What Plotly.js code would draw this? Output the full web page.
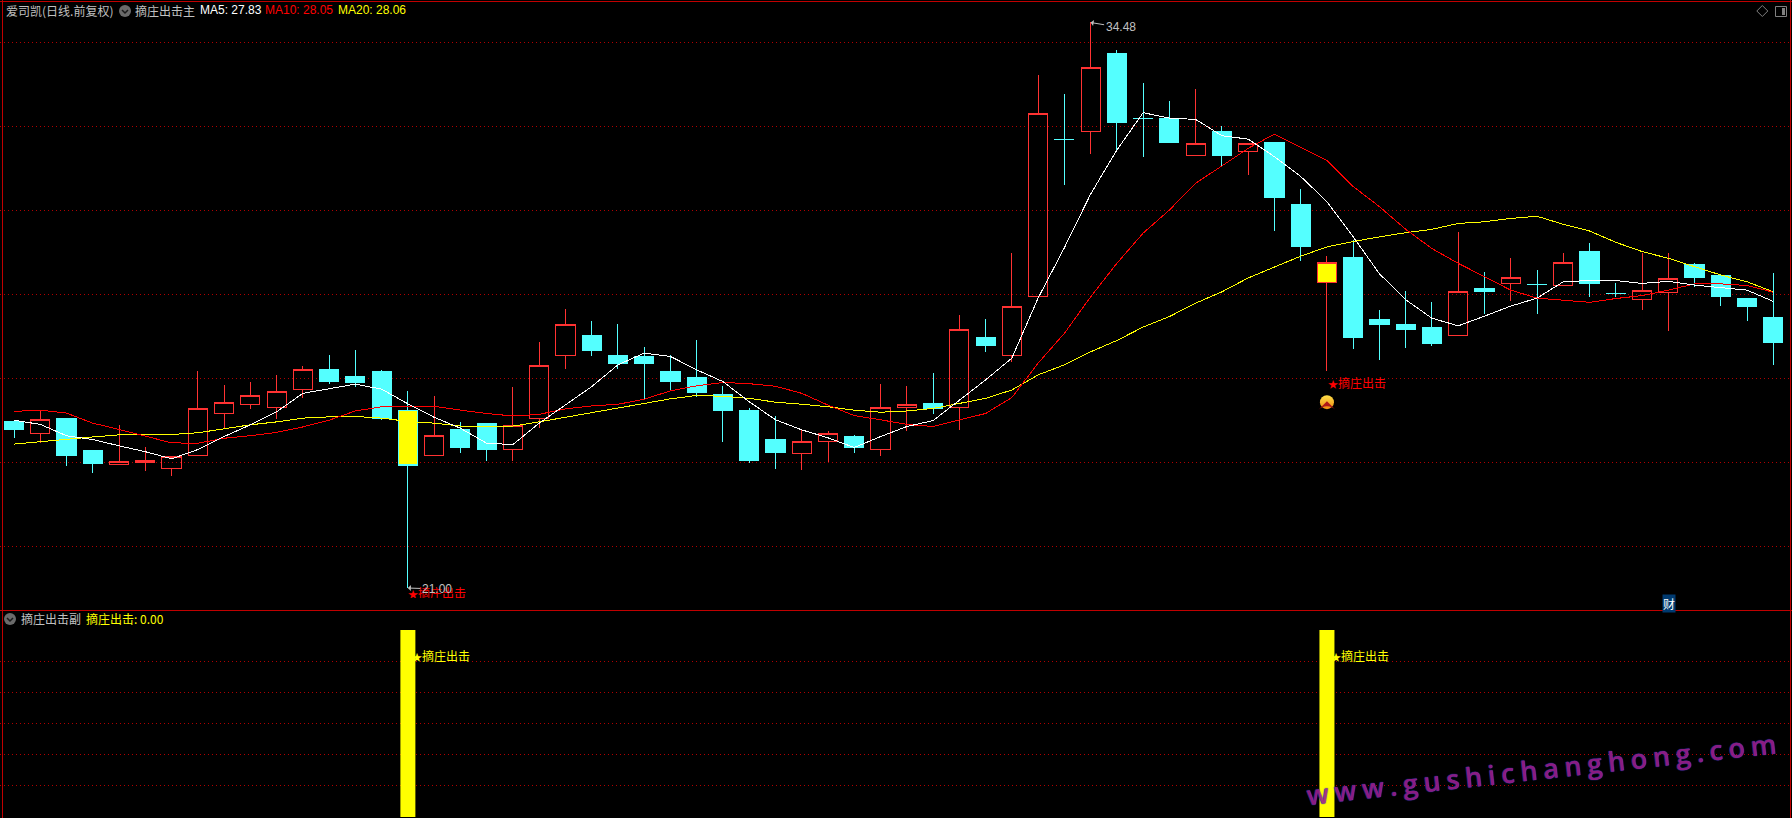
<!DOCTYPE html>
<html>
<head>
<meta charset="utf-8">
<script src="https://cdn.plot.ly/plotly-3.0.1.min.js"></script>
<style>html,body{margin:0;padding:0;background:#000;overflow:hidden}#c{width:1792px;height:818px}
#c .scatterlayer path.js-line, #c .boxlayer path.box{shape-rendering:crispEdges !important}</style>
</head>
<body>
<div id="c"></div>
<script>
const stockName = '爱司凯(日线.前复权)';
const mainIndicator = '摘庄出击主';
const subIndicator = '摘庄出击副';
const signalName = '摘庄出击';
const ma5Label = 'MA5: 27.83', ma10Label = 'MA10: 28.05', ma20Label = 'MA20: 28.06';
const subValueLabel = '摘庄出击: 0.00';
const watermark = 'www.gushichanghong.com';

const open = [24.98,24.68,25.03,24.27,23.94,23.99,23.84,24.15,25.16,25.37,25.30,25.73,26.22,26.03,26.17,25.22,24.15,24.77,24.93,24.30,25.05,26.55,27.03,26.55,26.51,26.17,26.01,25.62,25.22,24.53,24.20,24.50,24.62,24.30,25.30,25.39,25.31,26.96,26.55,27.95,31.70,31.89,33.73,32.20,32.18,31.31,31.89,31.40,31.61,30.15,28.28,28.89,27.41,27.29,27.20,27.01,28.13,28.25,28.24,28.21,29.01,28.03,27.87,28.04,28.72,28.46,27.91,27.46];
const high = [24.98,25.24,25.03,24.27,24.88,24.35,24.14,26.17,25.84,25.91,26.08,26.29,26.55,26.67,26.20,25.70,25.58,24.96,24.93,25.79,26.86,27.65,27.37,27.29,26.75,26.55,26.91,25.82,25.29,25.10,24.79,24.74,24.65,25.86,25.82,26.13,27.51,27.41,28.99,33.23,32.78,34.48,33.83,33.04,32.61,32.90,32.01,31.60,31.63,30.51,28.91,29.30,27.63,28.08,27.82,29.49,28.53,28.87,28.58,28.99,29.22,28.27,28.99,28.99,28.75,28.49,27.91,28.51];
const low = [24.58,24.46,23.91,23.74,23.94,23.79,23.67,24.15,24.81,25.27,25.03,25.54,25.86,25.80,25.01,21.00,24.15,24.22,24.03,24.03,24.82,26.22,26.54,26.22,25.51,25.72,25.55,24.48,23.98,23.84,23.81,24.01,24.22,24.15,24.74,25.15,24.77,26.63,26.39,27.95,30.61,31.35,31.39,31.28,31.61,31.31,31.06,30.85,29.51,28.80,26.17,26.70,26.44,26.72,26.77,27.01,27.53,27.84,27.53,28.21,27.94,27.94,27.63,27.13,28.18,27.72,27.37,26.32];
const close = [24.77,25.02,24.15,23.98,24.02,24.04,24.14,25.28,25.43,25.59,25.69,26.21,25.93,25.91,25.03,23.91,24.64,24.36,24.31,24.88,26.31,27.29,26.67,26.34,26.34,25.93,25.67,25.22,24.05,24.22,24.50,24.69,24.34,25.31,25.38,25.29,27.17,26.79,27.72,32.32,31.69,33.41,32.09,32.19,31.63,31.60,31.32,31.60,30.30,29.13,28.76,26.96,27.29,27.17,26.82,28.07,28.06,28.41,28.23,28.76,28.27,28.02,28.10,28.38,28.41,27.94,27.70,26.86];
const ma5 = [25.00,24.90,24.63,24.54,24.39,24.25,24.08,24.30,24.61,24.89,25.20,25.64,25.75,25.86,25.74,25.39,25.07,24.81,24.45,24.42,24.93,25.36,25.80,26.32,26.60,26.52,26.20,25.92,25.44,25.01,24.77,24.58,24.35,24.61,24.85,24.99,25.48,25.96,26.48,27.91,29.11,30.39,31.44,32.33,32.20,32.17,31.78,31.70,31.28,30.81,30.21,29.37,28.49,27.87,27.43,27.25,27.48,27.72,27.91,28.30,28.33,28.33,28.26,28.31,28.22,28.16,28.10,27.83];
const ma10 = [25.21,25.24,25.17,24.93,24.78,24.62,24.46,24.45,24.57,24.63,24.71,24.84,25.00,25.22,25.32,25.32,25.33,25.24,25.16,25.10,25.14,25.27,25.34,25.38,25.50,25.70,25.82,25.90,25.87,25.81,25.64,25.36,25.11,25.01,24.90,24.85,25.01,25.16,25.54,26.36,27.07,27.94,28.74,29.46,30.01,30.65,31.06,31.48,31.82,31.51,31.19,30.57,30.09,29.55,29.09,28.74,28.42,28.10,27.91,27.86,27.81,27.90,27.97,28.10,28.25,28.25,28.21,28.05];
const ma20 = [24.43,24.49,24.55,24.60,24.65,24.66,24.66,24.70,24.80,24.89,24.96,25.05,25.08,25.09,25.05,24.97,24.93,24.86,24.85,24.86,24.96,25.07,25.18,25.28,25.40,25.51,25.59,25.57,25.52,25.43,25.38,25.32,25.24,25.19,25.22,25.28,25.40,25.52,25.72,26.08,26.32,26.63,26.90,27.22,27.47,27.79,28.06,28.39,28.65,28.91,29.13,29.26,29.37,29.47,29.55,29.69,29.73,29.81,29.86,29.67,29.51,29.24,29.02,28.86,28.66,28.46,28.30,28.06];
const signalIndex = [15,50];
const signalValue = [1,1];
const priceGrid = [22,24,26,28,30,32,34];
const subGrid = [0.1667,0.3333,0.5,0.6667,0.8333];

const idx = open.map((_,i)=>i);
const W = 1792, H = 818;
const RED = '#ff3232', CYAN = '#54ffff', BORDER = '#c00000', GRID = '#b00000', GREY = '#c0c0c0';
const px = x => x / W, py = y => 1 - y / H;
const pick = (arr, ids) => ids.map(i => arr[i]);

function candle(ids, upFill, downFill, name) {
  return {type:'candlestick', name, x:ids, open:pick(open,ids), high:pick(high,ids), low:pick(low,ids), close:pick(close,ids),
    xaxis:'x', yaxis:'y', whiskerwidth:0, hoverinfo:'skip',
    increasing:{line:{color:RED,width:1}, fillcolor:upFill},
    decreasing:{line:{color:CYAN,width:1}, fillcolor:downFill}};
}
const normalIds = idx.filter(i => !signalIndex.includes(i));
const starText = '<span style="font-size:10px">★</span>' + signalName;

const traces = [
  candle(normalIds, 'rgba(0,0,0,0)', CYAN, 'K'),
  candle(signalIndex, '#ffff00', '#ffff00', signalName),
  {type:'scatter', mode:'lines', x:idx, y:ma20, line:{color:'#ffff00',width:1}, xaxis:'x', yaxis:'y', name:'MA20'},
  {type:'scatter', mode:'lines', x:idx, y:ma10, line:{color:'#ff0000',width:1}, xaxis:'x', yaxis:'y', name:'MA10'},
  {type:'scatter', mode:'lines', x:idx, y:ma5, line:{color:'#ffffff',width:1}, xaxis:'x', yaxis:'y', name:'MA5'},
  {type:'bar', x:signalIndex, y:signalValue, width:0.571, marker:{color:'#ffff00',line:{width:0}}, xaxis:'x', yaxis:'y2', name:signalName},
  {type:'scatter', mode:'markers', x:[50], y:[25.43], xaxis:'x', yaxis:'y', name:'up',
    marker:{symbol:'circle', size:14, color:'#ffe14a', gradient:{type:'vertical', color:'#f08a10'}, line:{width:0}}},
  {type:'scatter', mode:'markers', x:[50], y:[25.45], xaxis:'x', yaxis:'y', name:'upChevron',
    marker:{symbol:'arrow-wide', size:12, color:'#b01818', line:{width:0}}},
  {type:'scatter', mode:'text', x:[15], y:[20.82], xaxis:'x', yaxis:'y3', cliponaxis:true, name:'clipped',
    text:[starText], textposition:'middle right',
    textfont:{family:'"Noto Sans CJK SC"', size:12, color:'#ff0000'}}
];

function label(text, x, y, color, extra) {
  return Object.assign({xref:'paper', yref:'paper', x:px(x), y:py(y), text, showarrow:false, xanchor:'left', yanchor:'middle', borderpad:0,
    font:{family:'"Noto Sans CJK SC"', size:12, color}}, extra||{});
}
const latin = c => ({family:'"Liberation Sans"', size:12, color:c});

const annotations = [
  label(stockName, 5, 10, GREY),
  label(mainIndicator, 134, 10, GREY),
  label(ma5Label, 198.5, 10, '#ffffff', {font:latin('#ffffff')}),
  label(ma10Label, 264, 10, '#ff0000', {font:latin('#ff0000')}),
  label(ma20Label, 337, 10, '#ffff00', {font:latin('#ffff00')}),
  label(subIndicator, 20, 618, GREY),
  label(subValueLabel, 85, 618, '#ffff00'),
  label('财', 1662, 603, '#ffffff', {bgcolor:'#003a70', font:{family:'"Noto Sans CJK SC"', size:12, color:'#ffffff'}}),
  {xref:'x', yref:'y', x:41, y:34.48, text:'34.48', showarrow:true, ax:30, ay:5, arrowcolor:GREY, arrowwidth:1, arrowhead:1, arrowsize:1, standoff:0,
    font:latin(GREY)},
  {xref:'x', yref:'y', x:15, y:21.00, text:'21.00', showarrow:true, ax:29, ay:1, arrowcolor:GREY, arrowwidth:1, arrowhead:1, arrowsize:1, standoff:0,
    font:latin(GREY)},
  {xref:'x', yref:'y', x:50, y:25.91, text:starText, showarrow:false, xanchor:'left', yanchor:'middle', borderpad:0, xshift:0,
    font:{family:'"Noto Sans CJK SC"', size:12, color:'#ff0000'}},
  {xref:'x', yref:'y2', x:15, y:0.866, text:starText, showarrow:false, xanchor:'left', yanchor:'middle', borderpad:0, xshift:3,
    font:{family:'"Noto Sans CJK SC"', size:12, color:'#ffff00'}},
  {xref:'x', yref:'y2', x:50, y:0.866, text:starText, showarrow:false, xanchor:'left', yanchor:'middle', borderpad:0, xshift:3,
    font:{family:'"Noto Sans CJK SC"', size:12, color:'#ffff00'}},
  {xref:'paper', yref:'paper', x:px(1544), y:py(768), text:'<span style="letter-spacing:5.8px">'+watermark+'</span>', showarrow:false,
    xanchor:'center', yanchor:'middle', textangle:-6.3, opacity:0.9,
    font:{family:'"Open Sans"', size:27, weight:600, color:'#9a2090', shadow:'0 0 1px #2838b8, 0 0 1px #2838b8'}}
];

function line(x0,y0,x1,y1,color,width) {
  return {type:'line', xref:'paper', yref:'paper', x0:px(x0), y0:py(y0), x1:px(x1), y1:py(y1), line:{color:color,width:width||1}};
}
function grayIcon(cx, cy) {
  return [
    {type:'circle', xref:'paper', yref:'paper', x0:px(cx-6), x1:px(cx+6), y0:py(cy-6), y1:py(cy+6), fillcolor:'#6a6a6a', line:{width:0}},
    {type:'path', xref:'paper', yref:'paper', path:`M${px(cx-3)},${py(cy-1)} L${px(cx)},${py(cy+2)} L${px(cx+3)},${py(cy-1)}`, line:{color:'#1a1a1a',width:1.5}}
  ];
}
const shapes = [
  line(2.5,0,2.5,H,BORDER), line(0,1.5,W,1.5,BORDER), line(0,610.5,W,610.5,BORDER), line(1790.5,0,1790.5,H,BORDER),
  ...grayIcon(125,11), ...grayIcon(10,619),
  {type:'path', xref:'paper', yref:'paper', path:`M${px(1762.3)},${py(5.5)} L${px(1767.8)},${py(11)} L${px(1762.3)},${py(16.5)} L${px(1756.8)},${py(11)} Z`, line:{color:'#808080',width:1}},
  {type:'rect', xref:'paper', yref:'paper', x0:px(1775.5), x1:px(1786.5), y0:py(6.5), y1:py(16.5), line:{color:'#808080',width:1}},
  {type:'rect', xref:'paper', yref:'paper', x0:px(1782), x1:px(1785), y0:py(8), y1:py(15), fillcolor:'#808080', line:{width:0}}
];

const axisBase = {showticklabels:false, ticks:'', zeroline:false, showline:false, fixedrange:true};
const layout = {
  width:W, height:H, margin:{l:0,r:0,t:0,b:0}, paper_bgcolor:'#000', plot_bgcolor:'rgba(0,0,0,0)', showlegend:false, hovermode:false,
  boxmode:'overlay', boxgap:0.27, boxgroupgap:0,
  xaxis:Object.assign({}, axisBase, {range:[-0.533,67.71], showgrid:false, rangeslider:{visible:false}, domain:[0,1], anchor:'y'}),
  yaxis:Object.assign({}, axisBase, {range:[20.476,35.016], domain:[(H-610)/H,1], tickmode:'array', tickvals:priceGrid, showgrid:true, gridcolor:GRID, gridwidth:1, griddash:'1px,3px', anchor:'x'}),
  yaxis2:Object.assign({}, axisBase, {range:[-0.0053,1.107], domain:[0,(H-610)/H], tickmode:'array', tickvals:subGrid, showgrid:true, gridcolor:GRID, gridwidth:1, griddash:'1px,3px', anchor:'x'}),
  yaxis3:Object.assign({}, axisBase, {range:[20.76,35.016], domain:[(H-598)/H,1], showgrid:false, anchor:'x'}),
  annotations, shapes
};
Plotly.newPlot('c', traces, layout, {displayModeBar:false, staticPlot:true});
</script>
</body>
</html>
